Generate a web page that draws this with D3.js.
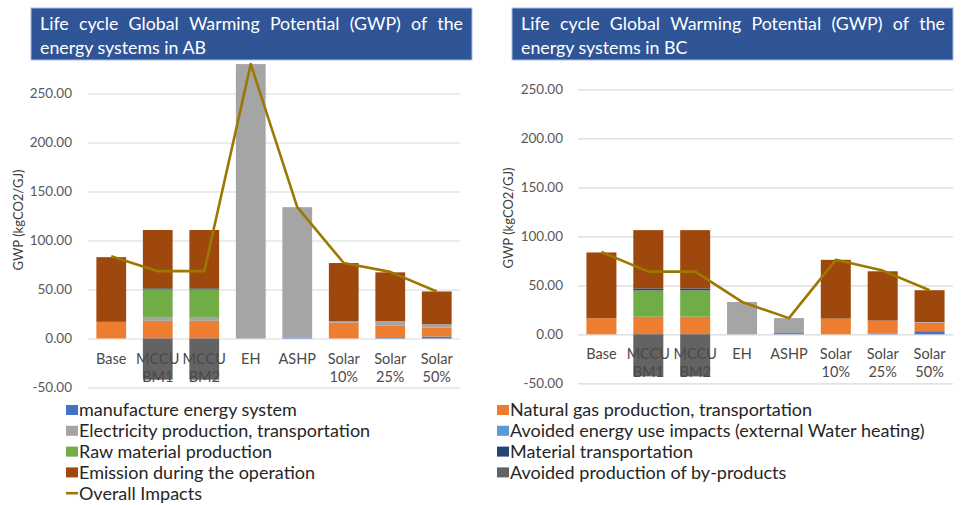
<!DOCTYPE html>
<html>
<head>
<meta charset="utf-8">
<script src="https://cdn.jsdelivr.net/npm/d3@7"></script>
<style>
  html, body { margin: 0; padding: 0; background: #fff; }
  svg { display: block; font-family: Lato, "Open Sans", sans-serif; }
</style>
</head>
<body>
<svg id="chart" width="967" height="505"></svg>
<script>
// Energy systems compared in each panel
const categories = [["Base"], ["MCCU", "BM1"], ["MCCU", "BM2"], ["EH"], ["ASHP"], ["Solar", "10%"], ["Solar", "25%"], ["Solar", "50%"]];
const yTicks = [-50, 0, 50, 100, 150, 200, 250];

// Stacked contribution series (stack order, bottom to top)
const seriesNames = [
  "manufacture energy system",
  "Natural gas production, transportation",
  "Electricity production, transportation",
  "Avoided energy use impacts (external Water heating)",
  "Raw material production",
  "Material transportation",
  "Emission during the operation",
  "Avoided production of by-products"
];
const seriesColors = ["#4472C4", "#ED7D31", "#A5A5A5", "#5B9BD5", "#70AD47", "#264478", "#9E480E", "#636363"];
const lineName = "Overall Impacts";
const lineColor = "#9C7800";

// Alberta (AB), kgCO2/GJ
const abManufacture   = [0, 0, 0, 0, 1.0, 0, 0.5, 2.0];
const abNaturalGas    = [17, 18, 18, 0, 0, 16, 13, 9];
const abElectricity   = [0, 4, 4, 280, 133, 1.5, 4.3, 3.5];
const abAvoidedEnergy = [0, 0, 0, 0, 0, 0, 0, 0];
const abRawMaterial   = [0, 28, 28, 0, 0, 0, 0, 0];
const abTransport     = [0, 1.2, 1.2, 0, 0, 0, 0, 0];
const abEmission      = [66, 59.5, 59.5, 0, 0, 59.5, 49.7, 33.5];
const abByProducts    = [0, -42, -42, 0, 0, 0, 0, 0];
const abOverall       = [84, 68.7, 68.7, 280, 134, 77, 68, 48];

// British Columbia (BC), kgCO2/GJ
const bcManufacture   = [0, 0, 0, 0, 1.2, 0, 0.8, 3.2];
const bcNaturalGas    = [16.5, 18, 18, 0, 0, 16, 13.2, 8.6];
const bcElectricity   = [0, 0, 0, 33, 15.3, 0, 0, 0.7];
const bcAvoidedEnergy = [0, 0, 0, 0, 0, 0, 0, 0];
const bcRawMaterial   = [0, 26.8, 26.8, 0, 0, 0, 0, 0];
const bcTransport     = [0, 2, 2, 0, 0, 0, 0, 0];
const bcEmission      = [67, 59.5, 59.5, 0, 0, 60, 50.3, 32.5];
const bcByProducts    = [0, -43, -43, 0, 0, 0, 0, 0];
const bcOverall       = [84, 64, 64, 33, 16.5, 76, 65, 45];

const panels = [
  {
    title: ["Life cycle Global Warming Potential (GWP) of the", "energy systems in AB"],
    series: [abManufacture, abNaturalGas, abElectricity, abAvoidedEnergy, abRawMaterial, abTransport, abEmission, abByProducts],
    overall: abOverall,
    box: { x: 31, y: 8, w: 441, h: 52 }, textX: [40, 463],
    plot: { x0: 88, x1: 460, yTop: 93.5, yBottom: 387.5 },
    tickX: 72, axisTitle: { x: 18, y: 220 }
  },
  {
    title: ["Life cycle Global Warming Potential (GWP) of the", "energy systems in BC"],
    series: [bcManufacture, bcNaturalGas, bcElectricity, bcAvoidedEnergy, bcRawMaterial, bcTransport, bcEmission, bcByProducts],
    overall: bcOverall,
    box: { x: 512, y: 8, w: 441, h: 52 }, textX: [521, 945],
    plot: { x0: 578, x1: 953, yTop: 89.3, yBottom: 383.3 },
    tickX: 563, axisTitle: { x: 508, y: 218 }
  }
];

// two decimals, plain hyphen for negatives
const fmt2 = d => d3.format(".2f")(d).replace("\u2212", "-");

const svg = d3.select("#chart");

panels.forEach(p => {
  const g = svg.append("g");
  const idx = d3.range(categories.length);

  const x = d3.scaleBand().domain(idx).range([p.plot.x0, p.plot.x1])
    .paddingInner(0.36).paddingOuter(0.18);
  const y = d3.scaleLinear().domain([-50, 250]).range([p.plot.yBottom, p.plot.yTop]);

  // gridlines + value labels
  const yAxis = d3.axisLeft(y).tickValues(yTicks).tickFormat(fmt2)
    .tickSize(-(p.plot.x1 - p.plot.x0)).tickPadding(p.plot.x0 - p.tickX);
  const ya = g.append("g").attr("transform", `translate(${p.plot.x0},0)`).call(yAxis);
  ya.select(".domain").remove();
  ya.selectAll("line").attr("stroke", "#D9D9D9").attr("stroke-width", 1.2);
  ya.selectAll("text").attr("fill", "#595959").style("font-size", "13.5px")
    .style("font-family", "Lato, 'Open Sans', sans-serif");

  // stacked bars: positives stack upward, negatives downward
  const pos = idx.map(() => 0), neg = idx.map(() => 0);
  const segs = [];
  p.series.forEach((vals, si) => {
    vals.forEach((v, i) => {
      if (!v) return;
      let y0, y1;
      if (v > 0) { y0 = pos[i]; y1 = pos[i] + v; pos[i] = y1; }
      else { y0 = neg[i]; y1 = neg[i] + v; neg[i] = y1; }
      segs.push({ i, si, y0, y1 });
    });
  });
  g.append("g").selectAll("rect").data(segs).join("rect")
    .attr("x", d => x(d.i))
    .attr("width", x.bandwidth())
    .attr("y", d => y(Math.max(d.y0, d.y1)))
    .attr("height", d => Math.abs(y(d.y0) - y(d.y1)))
    .attr("fill", d => seriesColors[d.si]);

  // category labels
  const cl = g.append("g").selectAll("text").data(idx).join("text")
    .attr("text-anchor", "middle")
    .attr("fill", "#4a4a4a")
    .style("font-size", "14.5px");
  cl.each(function (i) {
    const t = d3.select(this);
    categories[i].forEach((line, k) => {
      t.append("tspan").attr("x", x(i) + x.bandwidth() / 2)
        .attr("y", y(0) + 25 + k * 18).text(line);
    });
  });

  // overall impacts line
  const line = d3.line().x((d, i) => x(i) + x.bandwidth() / 2).y(d => y(d));
  g.append("path").datum(p.overall).attr("d", line)
    .attr("fill", "none").attr("stroke", lineColor).attr("stroke-width", 2.6)
    .attr("stroke-linejoin", "round");

  // axis title
  g.append("text")
    .attr("transform", `translate(${p.axisTitle.x},${p.axisTitle.y}) rotate(-90)`)
    .attr("text-anchor", "middle").attr("dy", "0.35em")
    .attr("fill", "#404040").style("font-size", "13px")
    .text("GWP (kgCO2/GJ)");

  // title box with justified first line
  g.append("rect").attr("x", p.box.x).attr("y", p.box.y)
    .attr("width", p.box.w).attr("height", p.box.h)
    .attr("fill", "#2F5597").attr("stroke", "#A9BEE4").attr("stroke-width", 1);
  const words = p.title[0].split(" ");
  const wt = g.append("g").selectAll("text").data(words).join("text")
    .attr("y", 30).attr("fill", "#fff").style("font-size", "17.8px").text(d => d);
  const widths = [];
  wt.each(function () { widths.push(this.getComputedTextLength()); });
  const gap = (p.textX[1] - p.textX[0] - d3.sum(widths)) / (words.length - 1);
  let cx = p.textX[0];
  wt.attr("x", (d, k) => { const v = cx; cx += widths[k] + gap; return v; });
  g.append("text").attr("x", p.textX[0]).attr("y", 54).attr("fill", "#fff")
    .style("font-size", "17.8px").text(p.title[1]);
});

// legend (two columns, rows filled left then right)
const legendItems = seriesNames.map((n, i) => ({ name: n, color: seriesColors[i], type: "rect" }))
  .concat([{ name: lineName, color: lineColor, type: "line" }]);
const leg = svg.append("g");
legendItems.forEach((d, i) => {
  const col = i === 8 ? 0 : i % 2;
  const row = i === 8 ? 4 : Math.floor(i / 2);
  const lx = col === 0 ? 66 : 497;
  const ly = 410 + row * 20.8;
  if (d.type === "rect") {
    leg.append("rect").attr("x", lx).attr("y", ly - 5).attr("width", 12).attr("height", 10).attr("fill", d.color);
  } else {
    leg.append("line").attr("x1", lx).attr("x2", lx + 12).attr("y1", ly).attr("y2", ly)
      .attr("stroke", d.color).attr("stroke-width", 2.6);
  }
  leg.append("text").attr("x", lx + 13).attr("y", ly).attr("dy", "0.35em")
    .attr("fill", "#262626").style("font-size", "18px").text(d.name);
});
</script>
</body>
</html>
